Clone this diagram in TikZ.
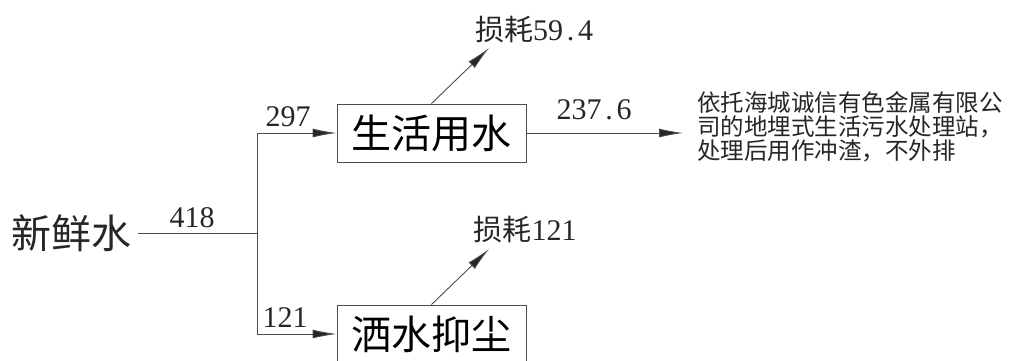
\documentclass[tikz,border=0pt]{standalone}
\usepackage{fontspec}
\newfontfamily\cjk{Noto Sans CJK SC}
\newfontfamily\dig{Liberation Serif}
\newcommand{\pd}{\makebox[0.5em]{.}}
\usetikzlibrary{arrows.meta}
\tikzset{
  ln/.style={draw=black!70, line width=0.9pt},
  arr/.style={ln, -{Latex[length=24pt,width=9pt,fill=black!85]}},
  box/.style={ln, rectangle, minimum width=189pt, minimum height=58pt, inner sep=0pt, font=\cjk\fontsize{40}{40}\selectfont},
  num/.style={inner sep=0pt, font=\dig\fontsize{30}{30}\selectfont, text=black!85},
  big/.style={inner sep=0pt, font=\cjk\fontsize{40}{40}\selectfont, text=black!85},
  loss/.style={inner sep=0pt, text=black!85},
  note/.style={inner sep=0pt, align=left, font=\cjk\fontsize{23.5}{24}\selectfont, text=black!85}
}
\begin{document}
\begin{tikzpicture}[x=1pt,y=-1pt]
\useasboundingbox (0,0) rectangle (1012,360);
\clip (0,0) rectangle (1012,360);
\node[big] (fresh) at (71,233) {新鲜水};
\coordinate (fs) at (138,233);
\coordinate (j) at (257,233);
\coordinate (jt) at (257,133);
\coordinate (jb) at (257,334);
\node[box] (b1) at (431.5,133) {生活用水};
\node[box] (b2) at (431.5,334) {洒水抑尘};
\coordinate (l1) at (489,48);
\coordinate (l2) at (489,249);
\coordinate (o1) at (683,133);
\node[loss] (t1) at (534,30) {{\cjk\fontsize{29}{29}\selectfont 损耗}{\dig\fontsize{30}{30}\selectfont 59\pd 4}};
\node[loss] (t2) at (525,230) {{\cjk\fontsize{29}{29}\selectfont 损耗}{\dig\fontsize{30}{30}\selectfont 121}};
\node[num] (n418) at (192,218) {418};
\node[num] (n297) at (288,117) {297};
\node[num] (n121) at (285,318) {121};
\node[num] (n237) at (594,110) {237\pd 6};
\node[note, anchor=west] (note) at (697,127) {依托海城诚信有色金属有限公\\司的地埋式生活污水处理站，\\处理后用作冲渣，不外排};
\draw[ln] (fs) -- (j);
\draw[ln] (jt) -- (jb);
\draw[arr] (jt) -- (b1.west);
\draw[arr] (jb) -- (b2.west);
\draw[arr] (b1.north) -- (l1);
\draw[arr] (b2.north) -- (l2);
\draw[arr] (b1.east) -- (o1);
\end{tikzpicture}
\end{document}
